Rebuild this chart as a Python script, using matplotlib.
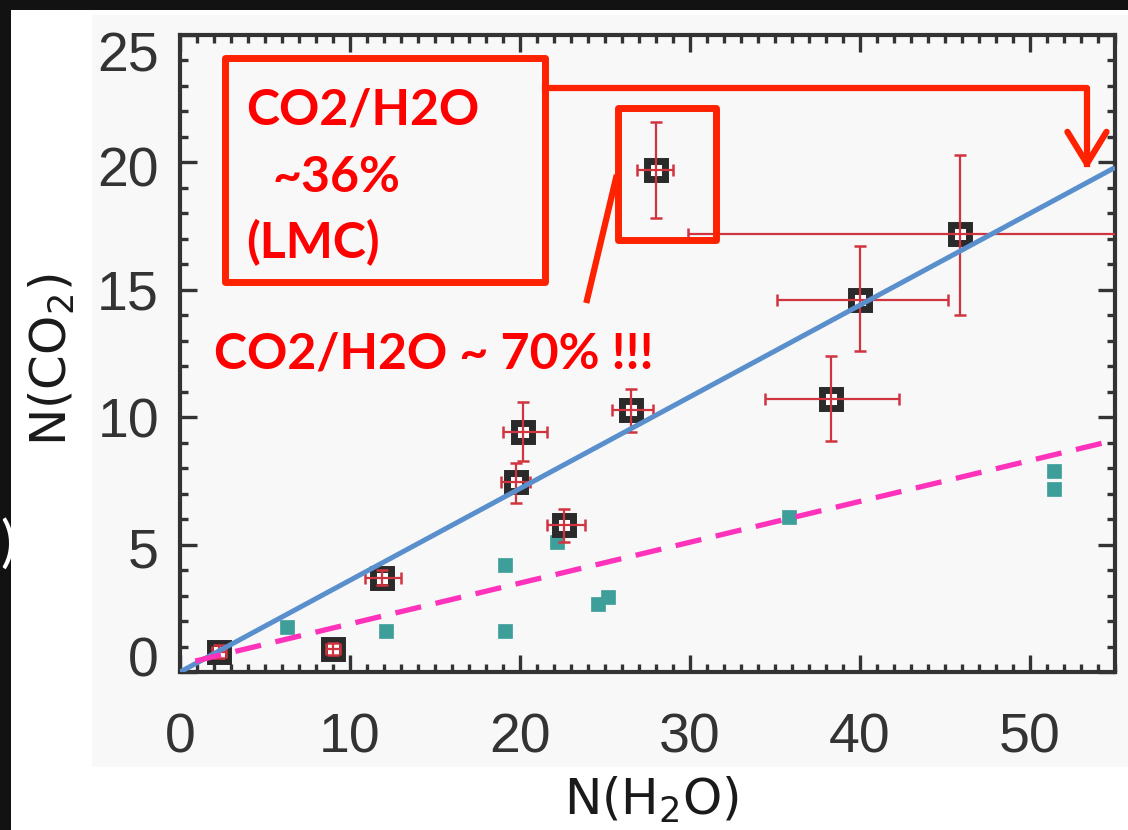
import matplotlib
matplotlib.use('Agg')
import matplotlib.pyplot as plt
from matplotlib.patches import Rectangle
import matplotlib.transforms as mtransforms
import numpy as np

W, H, DPI = 1128, 830, 100

# ---------------- data ----------------
# LMC sources (black squares with red error bars)
lmc_x = [2.3, 9.0, 11.9, 19.75, 20.2, 26.5, 22.6, 28.0, 45.9, 40.0, 38.3]
lmc_y = [0.8, 0.9, 3.7, 7.44, 9.4, 10.3, 5.75, 19.7, 17.2, 14.6, 10.7]
lmc_x_lo = [1.9, 8.6, 10.9, 18.9, 19.0, 25.4, 21.6, 26.9, 29.9, 35.1, 34.4]
lmc_x_hi = [2.7, 9.4, 13.0, 20.6, 21.6, 27.8, 23.8, 29.0, 58.0, 45.2, 42.3]
lmc_y_lo = [0.55, 0.65, 3.4, 6.65, 8.3, 9.4, 5.1, 17.8, 14.0, 12.6, 9.06]
lmc_y_hi = [1.05, 1.15, 4.0, 8.2, 10.6, 11.1, 6.4, 21.6, 20.3, 16.7, 12.4]

# Galactic sources (teal squares)
gal_x = [6.3, 12.1, 19.1, 19.1, 24.6, 25.2, 22.2, 35.8, 51.4, 51.4]
gal_y = [1.77, 1.6, 4.2, 1.6, 2.68, 2.96, 5.1, 6.1, 7.87, 7.17]

# fitted ratios
fit_lmc_x = [0.0, 55.0]
fit_lmc_y = [0.0, 19.8]
fit_gal_x = [0.9, 55.0]
fit_gal_y = [0.43, 9.1]

x_ticks = [0, 10, 20, 30, 40, 50]
y_ticks = [0, 5, 10, 15, 20, 25]
y_tick_labels = ['0', '5', '10', '15', '20', '25']

# ---------------- figure ----------------
fig = plt.figure(figsize=(W / DPI, H / DPI), dpi=DPI, facecolor='#121212')

def fx(px):
    return px / W

def fy(py):
    return 1 - py / H

# white slide area and slightly grey plot image
fig.patches.append(Rectangle((fx(11), 0), 1, fy(10), transform=fig.transFigure,
                             facecolor='white', edgecolor='none', zorder=-10))
fig.patches.append(Rectangle((fx(92), fy(767)), 1, fy(15) - fy(767), transform=fig.transFigure,
                             facecolor='#f8f8f8', edgecolor='none', zorder=-9))

ax = fig.add_axes([fx(180), fy(672), fx(1115) - fx(180), fy(35) - fy(672)])
ax.set_facecolor('none')
ax.set_xlim(0, 55)
ax.set_ylim(0, 25)

frame = '#333333'
for s in ax.spines.values():
    s.set_linewidth(3)
    s.set_color(frame)

ax.set_xticks(x_ticks)
ax.set_xticks(np.arange(0, 56, 1), minor=True)
ax.set_yticks(y_ticks)
ax.set_yticks(np.arange(0, 26, 1), minor=True)
ax.tick_params(which='both', direction='in', top=True, right=True, color=frame, width=2.4)
ax.tick_params(which='major', length=12)
ax.tick_params(which='minor', length=5.5)
ax.tick_params(axis='x', which='major', labelsize=40, labelcolor=frame, pad=29)
for lab in ax.get_xticklabels():
    lab.set_fontfamily('Liberation Sans')
ax.set_yticklabels([])

# y tick labels as text (end labels sit inside the range as in the original)
dy_px = {0: 16, 5: -3, 20: -4, 25: -16}
for v, t in zip(y_ticks, y_tick_labels):
    tr = mtransforms.offset_copy(ax.get_yaxis_transform(), fig=fig,
                                 x=-21, y=dy_px.get(v, 0), units='dots')
    ax.text(0, v, t, transform=tr, ha='right', va='center_baseline',
            fontsize=40, color=frame, family='Liberation Sans', clip_on=False)

# axis titles
fig.text(fx(652), fy(800), r'N(H$_2$O)', ha='center', va='center', fontsize=36,
         color='#1a1a1a')
fig.text(fx(52), fy(360), r'N(CO$_2$)', ha='center', va='center', fontsize=36,
         color='#1a1a1a', rotation=90)

# galactic points
ax.plot(gal_x, gal_y, linestyle='none', marker='s', markersize=9.5,
        markerfacecolor='#3e9e9a', markeredgecolor='#3e9e9a', markeredgewidth=0.5, zorder=2)

# LMC points
ax.plot(lmc_x, lmc_y, linestyle='none', marker='s', markersize=13,
        markerfacecolor='white', markeredgecolor='#2a2a2a', markeredgewidth=5, zorder=3)
xerr = [np.array(lmc_x) - np.array(lmc_x_lo), np.array(lmc_x_hi) - np.array(lmc_x)]
yerr = [np.array(lmc_y) - np.array(lmc_y_lo), np.array(lmc_y_hi) - np.array(lmc_y)]
ax.errorbar(lmc_x, lmc_y, xerr=xerr, yerr=yerr, fmt='none', ecolor='#d0343f',
            elinewidth=1.6, capsize=4, capthick=1.8, zorder=4)

# fitted lines
ax.plot(fit_lmc_x, fit_lmc_y, color='#5a8fcd', linewidth=3.6, solid_capstyle='butt', zorder=5)
ax.plot(fit_gal_x, fit_gal_y, color='#ff33bb', linewidth=3.8, dashes=(5, 2.8), zorder=5)

# ---------------- annotations ----------------
red_line = '#ff2200'
red_txt = '#ff0000'
ax.add_patch(Rectangle((2.65, 15.3), 21.47 - 2.65, 24.1 - 15.3, facecolor='none',
                       edgecolor=red_line, linewidth=5, joinstyle='round', zorder=6, clip_on=False))
ax.add_patch(Rectangle((25.76, 16.95), 31.53 - 25.76, 22.13 - 16.95, facecolor='none',
                       edgecolor=red_line, linewidth=5, joinstyle='round', zorder=6, clip_on=False))
ax.plot([21.47, 53.35, 53.35], [22.92, 22.92, 19.95], color=red_line, linewidth=4.5,
        solid_joinstyle='round', zorder=6)
ax.plot([52.2, 53.35, 54.5], [21.2, 19.95, 21.2], color=red_line, linewidth=4.5,
        solid_joinstyle='round', solid_capstyle='round', zorder=6)
ax.plot([25.65, 23.94], [19.39, 14.6], color=red_line, linewidth=4.5, zorder=6)

tf = dict(color=red_txt, fontsize=36, fontweight='bold', family='Lato', zorder=7,
          va='baseline', ha='left')
ax.text(3.9, 21.47, 'CO2/H2O', **tf)
ax.text(5.47, 18.84, '~36%', **tf)
ax.text(3.9, 16.25, '(LMC)', **tf)
ax.text(2.0, 11.93, 'CO2/H2O ~ 70% !!!', **tf)

# remnant of slide text at left edge
fig.text(0.0, fy(545), ')', ha='left', va='center', fontsize=40, color='white',
         family='Lato')

fig.savefig('out.png', dpi=DPI, facecolor=fig.get_facecolor())
